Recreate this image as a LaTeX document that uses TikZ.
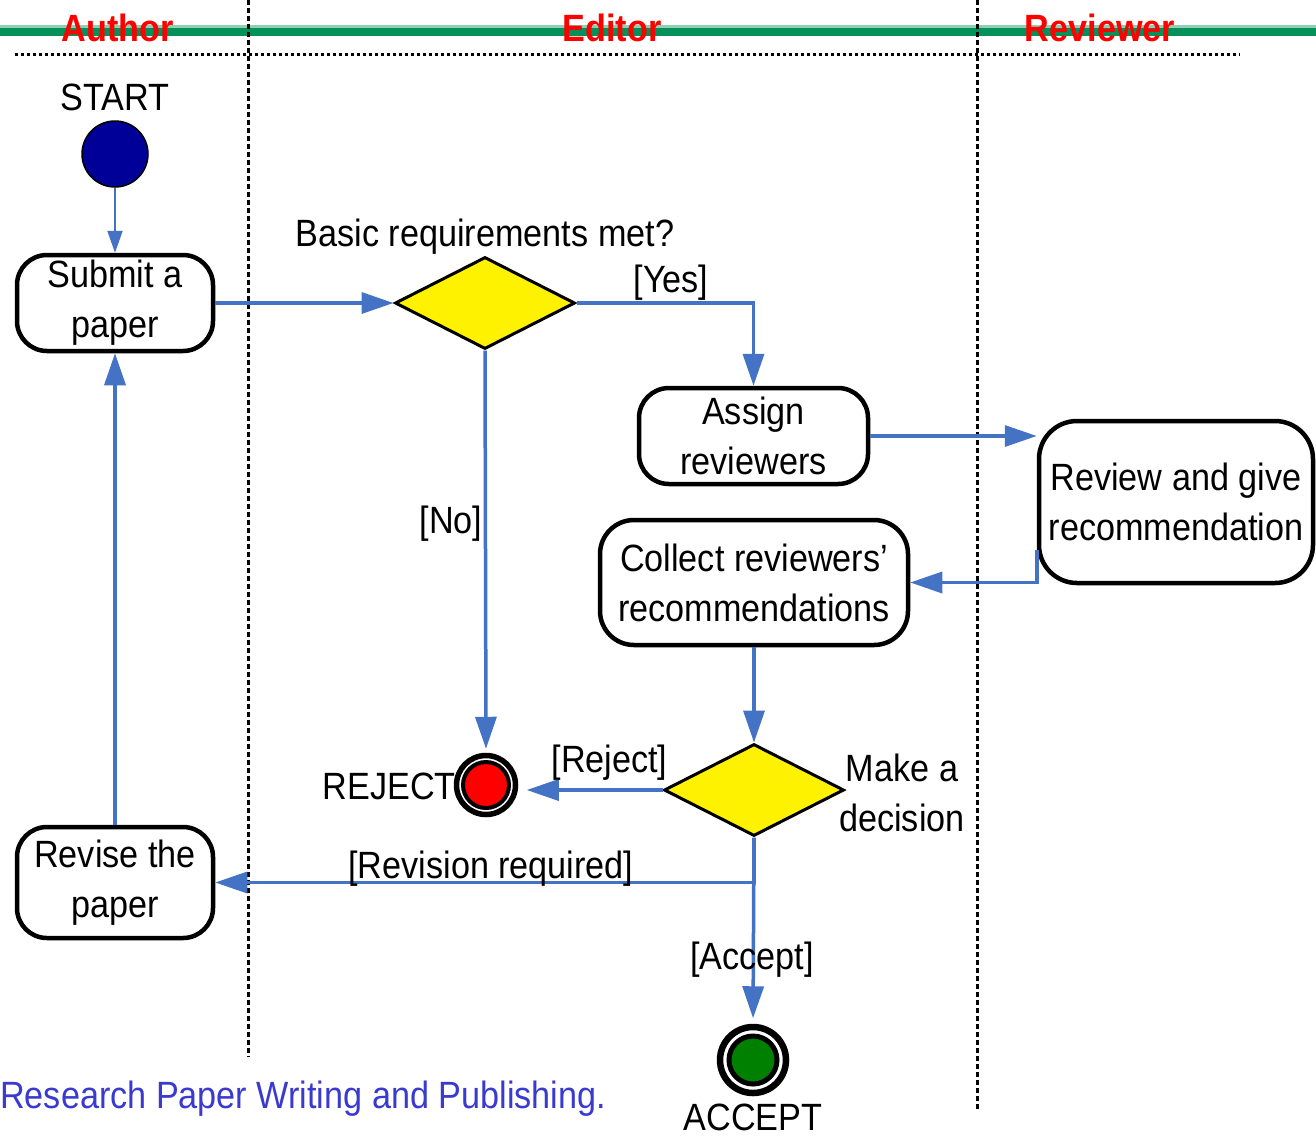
\documentclass[tikz,border=0pt]{standalone}
\usepackage{fontspec}
\setmainfont{Liberation Sans}[FakeStretch=0.9]
\usetikzlibrary{arrows.meta,shapes.geometric}
\definecolor{flow}{HTML}{4472C4}
\definecolor{band}{HTML}{03905A}
\definecolor{bandlight}{HTML}{8FCFB2}
\definecolor{startblue}{HTML}{000099}
\definecolor{acceptgreen}{HTML}{008000}
\definecolor{notecolor}{HTML}{3A3AD0}
\begin{document}
\begin{tikzpicture}[x=1pt,y=-1pt,
  txt/.style={font=\fontsize{38}{50}\selectfont, inner sep=0pt, anchor=base},
  lane/.style={font=\fontsize{38}{50}\selectfont\bfseries, text=red, inner sep=0pt, anchor=base},
  act/.style={draw, line width=4.5pt, rounded corners=30pt, align=center,
              font=\fontsize{38}{50}\selectfont, inner sep=0pt},
  dec/.style={diamond, draw, line width=3pt, fill=yellow, minimum width=180pt,
              minimum height=92pt, inner sep=0pt},
  flowarrow/.style={draw=flow, line width=3.5pt, -{Triangle[length=32pt,width=21pt]}},
  ring/.style={circle, draw, inner sep=0pt},
  sepline/.style={line width=3pt, dash pattern=on 5pt off 3pt},
  hdots/.style={line width=3pt, dash pattern=on 3.3pt off 2.7pt}
]
\useasboundingbox (0,0) rectangle (1316,1136);
\fill[white] (0,0) rectangle (1316,1136);

% header band
\fill[bandlight] (0,25) rectangle (1316,27.5);
\fill[band] (0,27.5) rectangle (1316,36);
\draw[hdots] (15,54) -- (1240,54);
\draw[sepline] (248,0) -- (248,1057);
\draw[sepline] (977,0) -- (977,1110);

\node[lane] (author) at (118,41) {Author};
\node[lane] (editor) at (612,41) {Editor};
\node[lane] (reviewer) at (1100,41) {Reviewer};

% nodes
\node[txt] (starttxt) at (115,110) {START};
\node[circle, draw, line width=1.5pt, fill=startblue, minimum size=66pt, inner sep=0pt] (start) at (115,154) {};

\node[act, minimum width=196pt, minimum height=96pt] (submit) at (115,303) {Submit a\\paper};
\node[dec] (d1) at (485,303) {};
\node[txt] (basic) at (485,246) {Basic requirements met?};

\node[act, minimum width=229pt, minimum height=96pt] (assign) at (753.5,436) {Assign\\reviewers};
\node[act, rounded corners=38pt, minimum width=274pt, minimum height=162pt] (review) at (1176,502) {Review and give\\recommendation};
\node[act, rounded corners=34pt, minimum width=308pt, minimum height=125pt] (collect) at (754,582.5) {Collect reviewers’\\recommendations};

\node[dec] (d2) at (754,790) {};
\node[txt, align=center, anchor=center] (make) at (902,793) {Make a\\decision};

\node[ring, line width=5.5pt, minimum size=59pt] (rejectout) at (486,785) {};
\node[ring, line width=4pt, fill=red, minimum size=46pt] (rejectin) at (486,785) {};
\node[txt, anchor=base east] (rejecttxt) at (456,799) {REJECT};

\node[act, minimum width=196pt, minimum height=111pt] (revise) at (115,882.5) {Revise the\\paper};

\node[ring, line width=6.5pt, minimum size=66pt] (acceptout) at (753,1060) {};
\node[ring, line width=5pt, fill=acceptgreen, minimum size=48pt] (acceptin) at (753,1060) {};
\node[txt] (accepttxt) at (753,1130) {ACCEPT};

\node[txt, anchor=base west, text=notecolor] (note) at (0,1108) {Research Paper Writing and Publishing.};

% connectors
\coordinate (rv) at ([yshift=-48pt]review.west);
\draw[draw=flow, line width=2pt, -{Triangle[length=22pt,width=15pt]}] (start.south) -- (submit.north);
\draw[flowarrow] (submit.east) -- (d1.west);
\draw[flowarrow] (d1.east) -| (assign.north);
\draw[flowarrow] (assign.east) -- (review.west |- assign.east);
\draw[flowarrow] (rv) |- (collect.east);
\draw[flowarrow] (collect.south) -- (d2.north);
\draw[flowarrow, shorten >=8.5pt] (d2.west) -- (rejectout.east |- d2.west);
\draw[flowarrow, shorten >=4pt] (d1.south) -- (rejectout.north);
\draw[flowarrow] (d2.south) |- (revise.east);
\draw[flowarrow, shorten >=5.5pt] (d2.south) -- (acceptout.north);
\draw[flowarrow] (revise.north) -- (submit.south);

% labels
\node[txt] (yes) at (671,292) {[Yes]};
\node[txt] (no) at (451,533) {[No]};
\node[txt] (rej) at (609.5,772) {[Reject]};
\node[txt] (rev) at (491,878) {[Revision required]};
\node[txt] (acc) at (752,969) {[Accept]};
\end{tikzpicture}
\end{document}
